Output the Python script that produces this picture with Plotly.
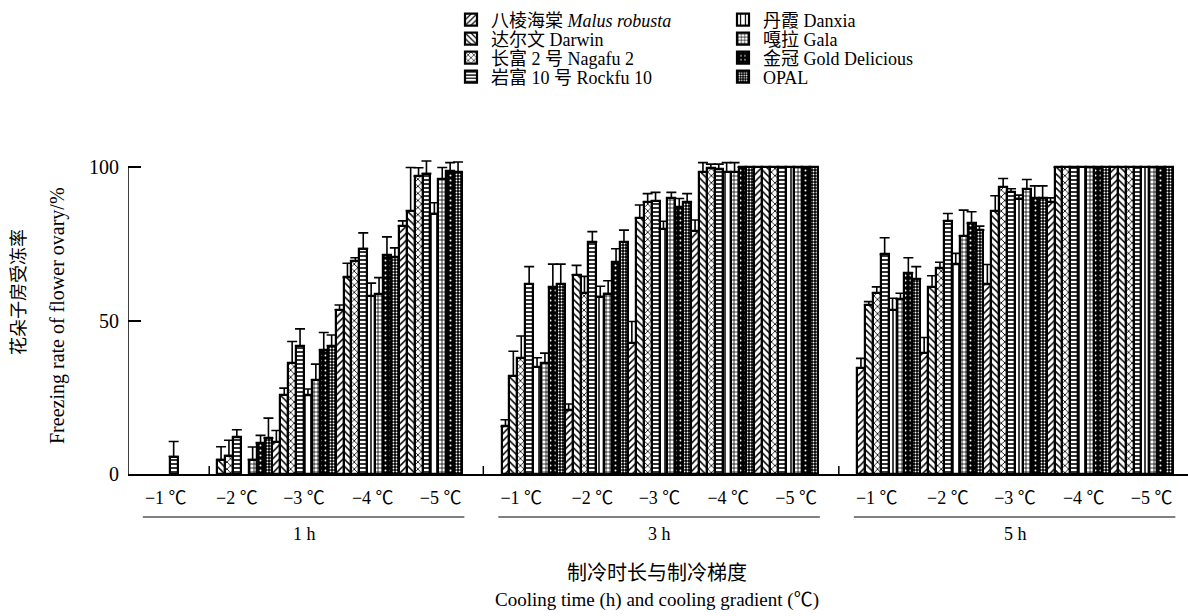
import plotly.graph_objects as go

durations = ["1 h", "3 h", "5 h"]
temps = ["−1 ℃", "−2 ℃", "−3 ℃", "−4 ℃", "−5 ℃"]
varieties = ["八棱海棠 <i>Malus robusta</i>", "达尔文 Darwin", "长富 2 号 Nagafu 2",
             "岩富 10 号 Rockfu 10", "丹霞 Danxia", "嘎拉 Gala", "金冠 Gold Delicious", "OPAL"]

# values per variety: 1 h (-1..-5 ℃), 3 h (-1..-5 ℃), 5 h (-1..-5 ℃)
malus = [0, 0, 10.4, 53.5, 80.8, 15.5, 20.7, 42.7, 79.2, 100, 34.5, 39.4, 61.8, 88.7, 100]
malus_err = [0, 0, 3.8, 1.6, 1.7, 2.2, 2.1, 7.0, 3.6, 0, 3.2, 5.1, 6.5, 1.3, 0]
darwin = [0, 4.7, 25.8, 64.1, 85.8, 32.0, 64.9, 83.4, 98.5, 100, 55.1, 60.9, 85.7, 100, 100]
darwin_err = [0, 4.2, 2.2, 4.6, 14.1, 8.0, 3.1, 4.3, 3.0, 0, 1.1, 3.7, 5.0, 0, 0]
nagafu = [0, 6.0, 36.1, 69.4, 97.1, 37.8, 59.0, 88.7, 99.6, 100, 58.9, 67.0, 93.6, 100, 100]
nagafu_err = [0, 5.0, 7.1, 1.1, 2.7, 7.2, 5.4, 2.7, 1.4, 0, 2.1, 2.0, 2.7, 0, 0]
rockfu = [5.7, 11.9, 41.8, 73.5, 97.9, 61.9, 75.6, 89.0, 99.3, 100, 71.6, 82.5, 92.0, 100, 100]
rockfu_err = [4.9, 2.5, 5.5, 5.1, 4.1, 5.7, 3.4, 2.8, 1.7, 0, 5.4, 2.4, 1.0, 0, 0]
danxia = [0, 0, 25.6, 58.1, 84.9, 34.8, 57.8, 79.8, 98.5, 100, 53.5, 68.3, 89.8, 100, 100]
danxia_err = [0, 0, 2.1, 4.1, 3.5, 3.1, 3.4, 2.6, 3.0, 0, 3.8, 3.6, 1.1, 0, 0]
gala = [0, 4.7, 30.7, 58.6, 96.1, 36.1, 58.8, 90.0, 98.5, 100, 57.0, 77.6, 93.0, 100, 100]
gala_err = [0, 4.1, 5.1, 5.4, 3.8, 3.3, 4.2, 1.8, 3.0, 0, 1.9, 8.4, 3.0, 0, 0]
gold = [0, 10.1, 40.4, 71.4, 98.8, 60.9, 69.2, 87.1, 100, 100, 65.6, 81.7, 90.0, 100, 100]
gold_err = [0, 2.5, 5.7, 5.9, 2.7, 7.5, 4.2, 2.7, 0, 0, 4.9, 3.8, 3.9, 0, 0]
opal = [0, 11.7, 41.8, 70.6, 98.3, 61.9, 75.6, 88.6, 100, 100, 63.6, 79.5, 90.0, 100, 100]
opal_err = [0, 6.5, 3.5, 3.1, 3.4, 6.5, 3.9, 2.8, 0, 0, 4.0, 1.3, 3.9, 0, 0]

series = [malus, darwin, nagafu, rockfu, danxia, gala, gold, opal]
errors = [malus_err, darwin_err, nagafu_err, rockfu_err, danxia_err, gala_err, gold_err, opal_err]

# pattern styles (shape, fg, bg, size, solidity)
styles = [
    ("/", "black", "white", 5, 0.3),
    ("\\", "black", "white", 5, 0.3),
    ("x", "black", "white", 5, 0.3),
    ("-", "black", "white", 4, 0.4),
    ("|", "black", "white", 6, 0.25),
    ("+", "black", "white", 4, 0.35),
    (".", "white", "black", 5, 0.12),
    (".", "white", "black", 3, 0.3),
]

W, H = 1188, 616
ML, MR, MT, MB = 128, 0, 158, 142
PW, PH = W - ML - MR, H - MT - MB
SLOT_PX = 7.9
X0_PX = 146  # pixel of slot 0
xmin = (ML - X0_PX) / SLOT_PX
xmax = (W - MR - X0_PX) / SLOT_PX
PANEL = 45
GROUP = 8


def px_to_paper_y(py):
    return (H - MB - py) / PH


def px_to_paper_x(px):
    return (px - ML) / PW


fig = go.Figure()
nT = len(temps)
for k, (name, vals, errs, st) in enumerate(zip(varieties, series, errors, styles)):
    xs = []
    for p in range(len(durations)):
        for g in range(nT):
            xs.append(PANEL * p + GROUP * g + k + 0.5)
    shape, fg, bg, size, sol = st
    fig.add_trace(go.Bar(
        x=xs, y=[v if v > 0 else None for v in vals], width=1.0, name=name,
        marker=dict(color=bg, line=dict(color="black", width=2.2),
                    pattern=dict(shape=shape, fgcolor=fg, bgcolor=bg, size=size,
                                 solidity=sol, fillmode="replace")),
        error_y=dict(type="data", symmetric=False,
                     array=[e if e > 0 else None for e in errs],
                     arrayminus=[0] * len(errs),
                     color="black", thickness=1.6, width=5),
        legend="legend" if k == 0 else f"legend{k + 1}",
        showlegend=True,
    ))

# tick label positions (relative to panel start, in slots)
label_rel = [2.5, 11.5, 20.0, 28.7, 37.3]
tickvals, ticktext = [], []
for p in range(len(durations)):
    for g in range(nT):
        tickvals.append(PANEL * p + label_rel[g])
        ticktext.append(temps[g])

font_family = "Liberation Serif, Noto Sans CJK SC, serif"

shapes = []
shapes.append(dict(type="line", xref="x", yref="y", x0=xmin, x1=xmin, y0=0, y1=100,
                   line=dict(color="black", width=1.5)))
for sx in [8.0, PANEL - 2.3, 2 * PANEL - 2.3]:
    shapes.append(dict(type="line", xref="x", yref="y", x0=sx, x1=sx, y0=0, y1=2.6,
                       line=dict(color="black", width=1.5)))
annotations = []
for p, d in enumerate(durations):
    shapes.append(dict(type="line", xref="x", yref="paper",
                       x0=PANEL * p - 0.4, x1=PANEL * p + 40.3,
                       y0=px_to_paper_y(517), y1=px_to_paper_y(517),
                       line=dict(color="black", width=1)))
    annotations.append(dict(x=PANEL * p + 20, y=px_to_paper_y(534), xref="x", yref="paper",
                            text=d, showarrow=False, font=dict(size=18, family=font_family, color="black"),
                            xanchor="center", yanchor="middle"))

annotations += [
    dict(x=px_to_paper_x(657), y=px_to_paper_y(573), xref="paper", yref="paper",
         text="制冷时长与制冷梯度", showarrow=False,
         font=dict(size=20, family=font_family, color="black"), xanchor="center", yanchor="middle"),
    dict(x=px_to_paper_x(657), y=px_to_paper_y(600), xref="paper", yref="paper",
         text="Cooling time (h) and cooling gradient (℃)", showarrow=False,
         font=dict(size=19, family=font_family, color="black"), xanchor="center", yanchor="middle"),
    dict(x=px_to_paper_x(19), y=px_to_paper_y(292), xref="paper", yref="paper",
         text="花朵子房受冻率", showarrow=False, textangle=-90,
         font=dict(size=18, family=font_family, color="black"), xanchor="center", yanchor="middle"),
    dict(x=px_to_paper_x(57), y=px_to_paper_y(316), xref="paper", yref="paper",
         text="Freezing rate of flower ovary/%", showarrow=False, textangle=-90,
         font=dict(size=20, family=font_family, color="black"), xanchor="center", yanchor="middle"),
]

layout = dict(
    width=W, height=H,
    margin=dict(l=ML, r=MR, t=MT, b=MB, pad=0, autoexpand=False),
    paper_bgcolor="white", plot_bgcolor="white",
    barmode="overlay", bargap=0,
    font=dict(family=font_family, color="black", size=18),
    xaxis=dict(range=[xmin, xmax], showline=True, linecolor="black", linewidth=1.5,
               ticks="", tickvals=tickvals, ticktext=ticktext, showgrid=False, zeroline=False,
               tickfont=dict(size=18, family=font_family, color="black"), ticklabelstandoff=7,
               automargin=False),
    yaxis=dict(range=[0, 103], showline=False, ticks="inside", ticklen=13, tickwidth=1.5,
               tickcolor="black", tickvals=[0, 50, 100], showgrid=False, zeroline=False,
               tickfont=dict(size=20, family=font_family, color="black"), automargin=False,
               ticklabelstandoff=8),
    shapes=shapes, annotations=annotations,
)

col_x = [451, 723]
row_y = [20, 39, 58, 77]
for k in range(8):
    key = "legend" if k == 0 else f"legend{k + 1}"
    c, r = divmod(k, 4)
    layout[key] = dict(x=col_x[c] / W, y=1 - row_y[r] / H, xref="container", yref="container",
                       xanchor="left", yanchor="middle", bgcolor="rgba(0,0,0,0)",
                       font=dict(size=18, family=font_family, color="black"))

fig.update_layout(**layout)
fig.write_html("out.html")
